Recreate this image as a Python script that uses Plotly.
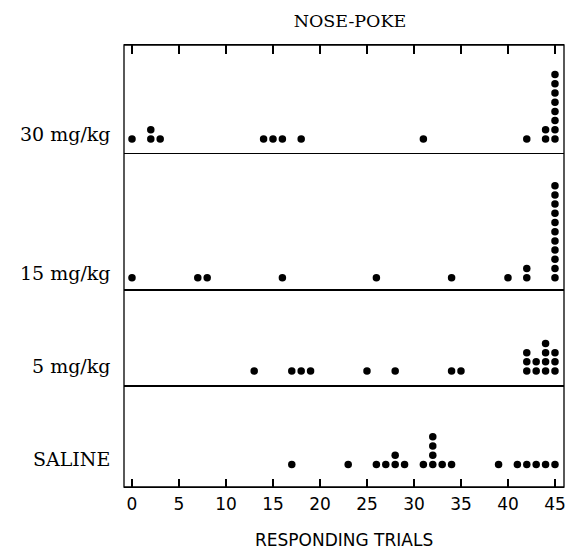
import plotly.graph_objects as go
from plotly.subplots import make_subplots

# ---- data (responding trials per animal, one dot each) ----
groups = ["30 mg/kg", "15 mg/kg", "5 mg/kg", "SALINE"]
trials_30 = [0, 2, 2, 3, 14, 15, 16, 18, 31, 42, 44, 44, 45, 45, 45, 45, 45, 45, 45, 45]
trials_15 = [0, 7, 8, 16, 26, 34, 40, 42, 42, 45, 45, 45, 45, 45, 45, 45, 45, 45, 45, 45]
trials_5 = [13, 17, 18, 19, 25, 28, 34, 35, 42, 42, 42, 43, 43, 44, 44, 44, 44, 45, 45, 45]
trials_saline = [17, 23, 26, 27, 28, 28, 29, 31, 32, 32, 32, 32, 33, 34, 39, 41, 42, 43, 44, 45]
x_ticks = [0, 5, 10, 15, 20, 25, 30, 35, 40, 45]
title_text = "NOSE-POKE"
x_title = "RESPONDING TRIALS"

series = [trials_30, trials_15, trials_5, trials_saline]

# panel pixel heights and stacking ranges (layout only)
row_px = [109, 136, 96, 101]
y_ranges = [[-1.62, 10.2], [-1.34, 13.45], [-1.62, 8.8], [-2.45, 8.53]]
x_range = [-0.85, 45.96]
plot_h = sum(row_px)

fig = make_subplots(rows=4, cols=1, row_heights=[h / plot_h for h in row_px],
                    vertical_spacing=0)

for i, vals in enumerate(series):
    counts = {}
    xs, ys = [], []
    for v in vals:
        lvl = counts.get(v, 0)
        counts[v] = lvl + 1
        xs.append(v)
        ys.append(lvl)
    fig.add_trace(go.Scatter(x=xs, y=ys, mode="markers",
                             marker=dict(size=7.5, color="black"),
                             showlegend=False, hoverinfo="x"),
                  row=i + 1, col=1)

# x axes (top ticks on first panel, bottom ticks + labels on last panel)
fig.update_xaxes(row=1, col=1, side="top", ticks="inside", ticklen=9, tickvals=x_ticks,
                 showline=True, linecolor="black", linewidth=1.3, tickcolor="black",
                 tickwidth=1.5, range=x_range, showgrid=False, zeroline=False,
                 showticklabels=False)
for r in (2, 3):
    fig.update_xaxes(row=r, col=1, showline=True, mirror=True, linecolor="black",
                     linewidth=1.3, ticks="", showticklabels=False, range=x_range,
                     showgrid=False, zeroline=False)
fig.update_xaxes(row=4, col=1, side="bottom", ticks="inside", ticklen=8, tickvals=x_ticks,
                 showline=True, mirror=True, linecolor="black", linewidth=1.3,
                 tickcolor="black", tickwidth=1.5, range=x_range, showgrid=False,
                 zeroline=False, showticklabels=True, ticklabelstandoff=1,
                 tickfont=dict(family="DejaVu Sans", size=17, color="black"))
for i in range(4):
    fig.update_yaxes(row=i + 1, col=1, range=y_ranges[i], showticklabels=False,
                     showgrid=False, zeroline=False)

annotations = []
for i, g in enumerate(groups):
    annotations.append(dict(text=g, xref="paper", x=0, xanchor="right", xshift=-12,
                            yref=f"y{'' if i == 0 else i + 1}", y=0.55, yanchor="middle",
                            showarrow=False,
                            font=dict(family="DejaVu Serif", size=19, color="black")))
annotations.append(dict(text=x_title, xref="paper", x=0.5, xanchor="center",
                        yref="paper", y=-(540 - 487) / 442, yanchor="middle", showarrow=False,
                        font=dict(family="DejaVu Sans", size=17, color="black")))

# frame, plus the inward tick marks along the top edge (placed on the x scale)
shapes = [dict(type="rect", xref="paper", yref="paper", x0=0, x1=1, y0=0, y1=1,
               line=dict(color="black", width=1.3), layer="above")]
for t in x_ticks:
    shapes.append(dict(type="line", xref="x", yref="paper", x0=t, x1=t,
                       y0=1, y1=1 - 9 / plot_h,
                       line=dict(color="black", width=1.5), layer="above"))

fig.update_layout(
    template="none",
    width=571, height=550,
    margin=dict(l=124, r=7, t=45, b=63, autoexpand=False),
    paper_bgcolor="white", plot_bgcolor="white",
    title=dict(text=title_text, x=350 / 571, xanchor="center",
               y=1 - 21 / 550, yanchor="middle",
               font=dict(family="DejaVu Serif", size=17.5, color="black")),
    annotations=annotations,
    shapes=shapes,
)

fig.write_html("out.html")
